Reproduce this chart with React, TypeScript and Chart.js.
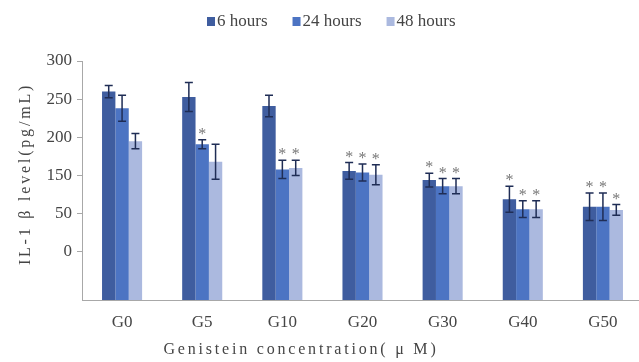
import React, { useEffect, useRef } from 'react';
import { Chart, registerables } from 'chart.js';
Chart.register(...registerables);

const categories = ['G0', 'G5', 'G10', 'G20', 'G30', 'G40', 'G50'];
const seriesNames = ['6 hours', '24 hours', '48 hours'];
const hours6 = [260, 253, 241, 156, 144, 119, 109];
const hours24 = [238, 191, 158, 154, 136, 106, 109];
const hours48 = [195, 168, 160, 151, 136, 106, 105];
const err6 = [8, 19, 14, 11, 9, 17, 18];
const err24 = [17, 6, 12, 11, 10, 11, 18];
const err48 = [10, 23, 10, 13, 10, 11, 7];
const star6 = [false, false, false, true, true, true, true];
const star24 = [false, true, true, true, true, true, true];
const star48 = [false, false, true, true, true, true, true];
const yTickValues = [50, 100, 150, 200, 250, 300];
const yTickLabels = ['0', '50', '150', '200', '250', '300'];
const xTitle = 'Genistein concentration( μ M)';
const yTitle = 'IL-1 β level(pg/mL)';

const colors = ['#3f5d9f', '#4c74c3', '#abb9df'];
const FONT = "'Liberation Serif', 'Times New Roman', serif";
const TEXT = '#454545';

export default function App() {
  const ref = useRef<HTMLCanvasElement>(null);
  useEffect(() => {
    const canvas = ref.current!;
    const Y_MIN = -13;
    const values = [hours6, hours24, hours48];
    const errs = [err6, err24, err48];
    const stars = [star6, star24, star48];

    const extras = {
      id: 'extras',
      afterDatasetsDraw(chart: any) {
        const ctx = chart.ctx;
        const ys = chart.scales.y;
        ctx.save();
        for (let d = 0; d < 3; d++) {
          const meta = chart.getDatasetMeta(d);
          meta.data.forEach((bar: any, i: number) => {
            const v = values[d][i];
            const e = errs[d][i];
            const x = bar.x;
            const yt = ys.getPixelForValue(v + e);
            const yb = ys.getPixelForValue(v - e);
            ctx.strokeStyle = '#1f2d55';
            ctx.lineWidth = 1.5;
            ctx.beginPath();
            ctx.moveTo(x, yt);
            ctx.lineTo(x, yb);
            ctx.moveTo(x - 4, yt);
            ctx.lineTo(x + 4, yt);
            ctx.moveTo(x - 4, yb);
            ctx.lineTo(x + 4, yb);
            ctx.stroke();
            if (stars[d][i]) {
              ctx.fillStyle = '#777';
              ctx.font = `16px ${FONT}`;
              ctx.textAlign = 'center';
              ctx.textBaseline = 'alphabetic';
              ctx.fillText('*', x, yt - 1);
            }
          });
        }
        ctx.restore();
      },
      afterDraw(chart: any) {
        const ctx = chart.ctx;
        ctx.save();
        ctx.font = `17px ${FONT}`;
        ctx.textBaseline = 'middle';
        ctx.textAlign = 'left';
        let x = 207;
        seriesNames.forEach((name, i) => {
          ctx.fillStyle = colors[i];
          ctx.fillRect(x, 17, 8, 9);
          ctx.fillStyle = TEXT;
          ctx.fillText(name, x + 10, 22);
          x += 10 + ctx.measureText(name).width + 25;
        });
        ctx.font = `16px ${FONT}`;
        (ctx as any).letterSpacing = '2.8px';
        ctx.fillStyle = TEXT;
        ctx.textAlign = 'center';
        ctx.textBaseline = 'middle';
        ctx.fillText(xTitle, 301, 350);
        ctx.translate(26, 174);
        ctx.rotate(-Math.PI / 2);
        ctx.fillText(yTitle, 0, 0);
        (ctx as any).letterSpacing = '0px';
        ctx.restore();
      },
    };

    const chart = new Chart(canvas, {
      type: 'bar',
      data: {
        labels: categories,
        datasets: values.map((vals, i) => ({
          label: seriesNames[i],
          data: vals,
          backgroundColor: colors[i],
          borderWidth: 0,
          base: Y_MIN,
          categoryPercentage: 0.5,
          barPercentage: 1.0,
        })),
      },
      options: {
        animation: false,
        responsive: false,
        devicePixelRatio: 1,
        layout: { padding: { top: 61, right: 17, left: 0, bottom: 0 } },
        plugins: { legend: { display: false }, tooltip: { enabled: false } },
        scales: {
          x: {
            grid: { display: false, drawTicks: false },
            border: { display: true, color: '#a8a8a8' },
            ticks: { font: { family: FONT, size: 17 }, color: TEXT, padding: 12 },
            afterFit: (s: any) => { s.height = 62; },
          },
          y: {
            min: Y_MIN,
            max: 300,
            afterBuildTicks: (s: any) => { s.ticks = yTickValues.map((v) => ({ value: v })); },
            ticks: {
              font: { family: FONT, size: 17 },
              color: TEXT,
              padding: 5,
              callback: (v: any) => yTickLabels[yTickValues.indexOf(Number(v))] ?? '',
            },
            grid: { drawOnChartArea: false, tickLength: 5, color: '#a8a8a8' },
            border: { color: '#a8a8a8' },
            afterFit: (s: any) => { s.width = 82; },
          },
        },
      },
      plugins: [extras],
    } as any);
    return () => chart.destroy();
  }, []);
  return (
    <div style={{ position: 'fixed', left: 0, top: 0, width: 639, height: 362, overflow: 'hidden', background: '#fff' }}>
      <canvas ref={ref} width={660} height={362} style={{ display: 'block', width: 660, height: 362 }} />
    </div>
  );
}
